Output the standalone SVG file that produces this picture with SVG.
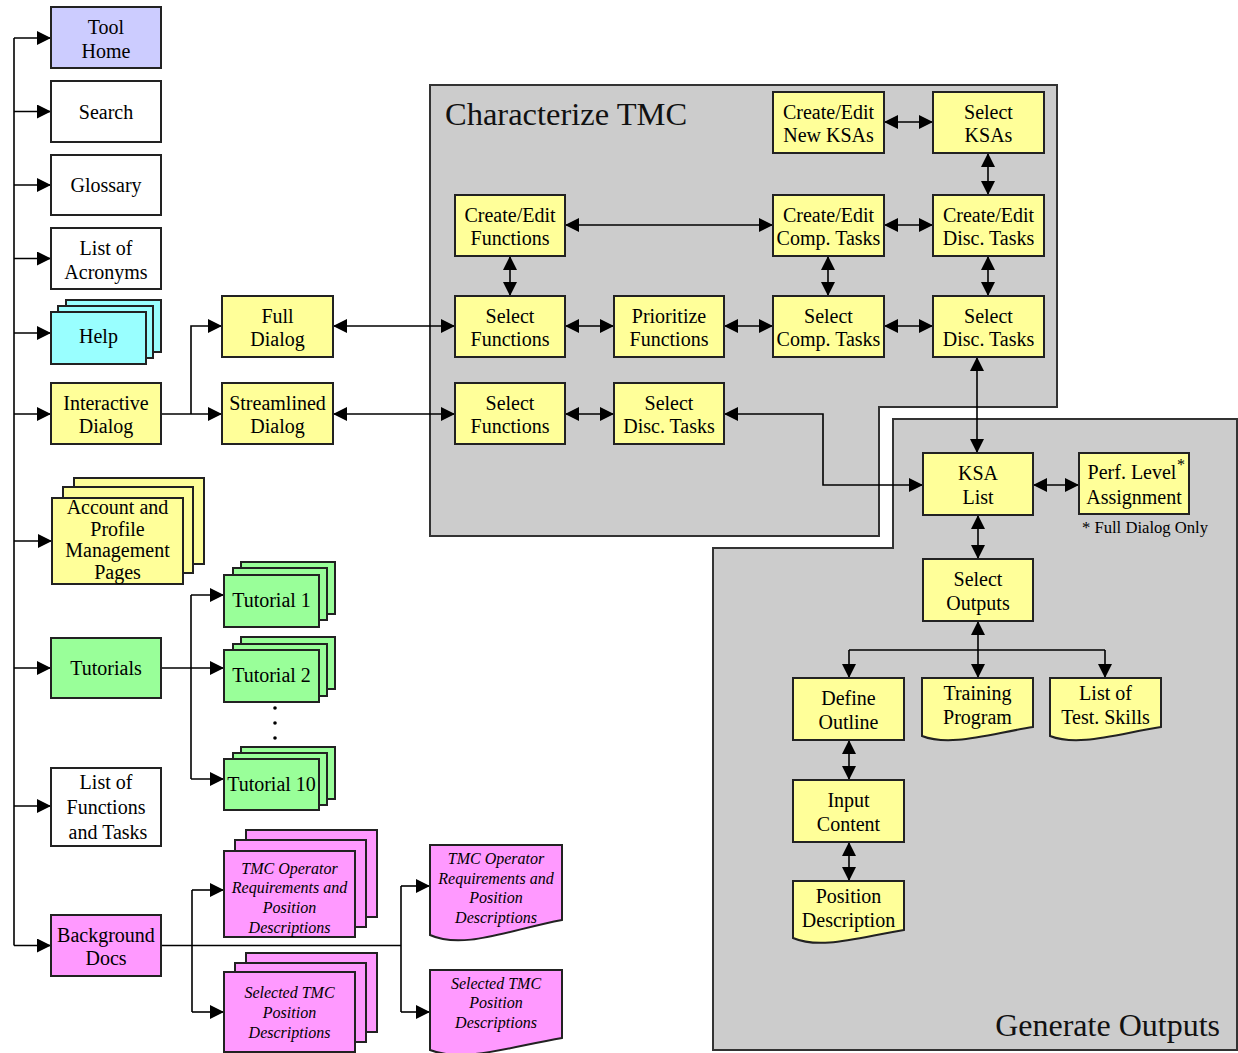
<svg xmlns="http://www.w3.org/2000/svg" width="1238" height="1053" viewBox="0 0 1238 1053">
<defs>
<style>
.box{stroke:#222;stroke-width:2}
.y{fill:#FFFF99}.w{fill:#FFFFFF}.c{fill:#99FFFF}.g{fill:#99FF99}.p{fill:#FF99FF}.l{fill:#CCCCFF}
.region{fill:#CCCCCC;stroke:#333;stroke-width:2}
.t{font-family:"Liberation Serif","Times New Roman",serif;font-size:20px;text-anchor:middle;fill:#000}
.it{font-family:"Liberation Serif","Times New Roman",serif;font-size:16px;font-style:italic;text-anchor:middle;fill:#000}
.title{font-family:"Liberation Serif","Times New Roman",serif;font-size:32.5px;fill:#111}
.note{font-family:"Liberation Serif","Times New Roman",serif;font-size:16px;fill:#000}
.conn{stroke:#000;stroke-width:1.6;fill:none}
.one{marker-end:url(#ah)}
.two{marker-start:url(#ah);marker-end:url(#ah)}
.back{marker-start:url(#ah)}
</style>
<marker id="ah" markerUnits="userSpaceOnUse" markerWidth="15" markerHeight="14" refX="14" refY="7" orient="auto-start-reverse">
<path d="M0,0 L14,7 L0,14 z" fill="#000"/>
</marker>
</defs>
<rect width="1238" height="1053" fill="#fff"/>

<!-- regions -->
<g id="characterize-tmc">
<polygon class="region" points="430,85 1057,85 1057,407 879,407 879,536 430,536"/>
<text class="title" x="445" y="125">Characterize TMC</text>
</g>
<g id="generate-outputs">
<polygon class="region" points="893,419 1237,419 1237,1050 713,1050 713,548 893,548"/>
<text class="title" x="1220" y="1036" style="font-size:32px;text-anchor:end">Generate Outputs</text>
</g>

<!-- connectors -->
<g id="connectors">
<path class="conn" d="M14,38 V945.5"/>
<path class="conn one" d="M14,38 H51"/>
<path class="conn one" d="M14,111.5 H51"/>
<path class="conn one" d="M14,185 H51"/>
<path class="conn one" d="M14,258.5 H51"/>
<path class="conn one" d="M14,333 H51"/>
<path class="conn one" d="M14,414 H51"/>
<path class="conn one" d="M14,541 H52"/>
<path class="conn one" d="M14,668 H51"/>
<path class="conn one" d="M14,806 H51"/>
<path class="conn one" d="M14,945.5 H51"/>

<path class="conn one" d="M161,414 H222"/>
<path class="conn one" d="M191,414 V326 H222"/>

<path class="conn one" d="M161,668 H224"/>
<path class="conn" d="M191,595 V779"/>
<path class="conn one" d="M191,595 H224"/>
<path class="conn one" d="M191,779 H224"/>

<path class="conn" d="M161,945.5 H401"/>
<path class="conn" d="M192,890 V1012"/>
<path class="conn one" d="M192,890 H224"/>
<path class="conn one" d="M192,1012 H224"/>
<path class="conn" d="M401,886 V1012"/>
<path class="conn one" d="M401,886 H430"/>
<path class="conn one" d="M401,1012 H430"/>

<path class="conn two" d="M333,326 H455"/>
<path class="conn two" d="M333,414 H455"/>
<path class="conn two" d="M565,326 H614"/>
<path class="conn two" d="M724,326 H773"/>
<path class="conn two" d="M884,326 H933"/>
<path class="conn two" d="M565,414 H614"/>
<path class="conn two" d="M724,414 H823 V485 H923"/>
<path class="conn two" d="M565,225 H773"/>
<path class="conn two" d="M884,225 H933"/>
<path class="conn two" d="M884,122 H933"/>
<path class="conn two" d="M988,153 V195"/>
<path class="conn two" d="M510,256 V296"/>
<path class="conn two" d="M828,256 V296"/>
<path class="conn two" d="M988,256 V296"/>
<path class="conn two" d="M977,357 V453"/>
<path class="conn two" d="M1033,485 H1079"/>
<path class="conn two" d="M978,515 V559"/>
<path class="conn back" d="M978,621 V650"/>
<path class="conn" d="M849,650 H1105"/>
<path class="conn one" d="M849,650 V678"/>
<path class="conn one" d="M978,650 V678"/>
<path class="conn one" d="M1105,650 V678"/>
<path class="conn two" d="M849,740 V780"/>
<path class="conn two" d="M849,842 V881"/>
</g>

<!-- left column -->
<g id="tool-home"><rect class="box l" x="51" y="7" width="110" height="61"/><text class="t" x="106" y="33.5">Tool</text><text class="t" x="106" y="57.5">Home</text></g>
<g id="search"><rect class="box w" x="51" y="81" width="110" height="61"/><text class="t" x="106" y="118.5">Search</text></g>
<g id="glossary"><rect class="box w" x="51" y="155" width="110" height="60"/><text class="t" x="106" y="192">Glossary</text></g>
<g id="list-of-acronyms"><rect class="box w" x="51" y="228" width="110" height="61"/><text class="t" x="106" y="254.5">List of</text><text class="t" x="106" y="278.5">Acronyms</text></g>
<g id="help">
<rect class="box c" x="66" y="300" width="95" height="52"/>
<rect class="box c" x="58" y="306" width="95" height="52"/>
<rect class="box c" x="51" y="312" width="95" height="52"/>
<text class="t" x="98.5" y="343">Help</text>
</g>
<g id="interactive-dialog"><rect class="box y" x="51" y="383" width="110" height="61"/><text class="t" x="106" y="409.5">Interactive</text><text class="t" x="106" y="433">Dialog</text></g>
<g id="account-profile">
<rect class="box y" x="74" y="478" width="130" height="86"/>
<rect class="box y" x="63" y="487" width="130" height="86"/>
<rect class="box y" x="52" y="498" width="131" height="86"/>
<text class="t" x="117.5" y="514">Account and</text>
<text class="t" x="117.5" y="535.5">Profile</text>
<text class="t" x="117.5" y="557">Management</text>
<text class="t" x="117.5" y="579">Pages</text>
</g>
<g id="tutorials"><rect class="box g" x="51" y="638" width="110" height="60"/><text class="t" x="106" y="675">Tutorials</text></g>
<g id="list-of-functions"><rect class="box w" x="51" y="768" width="110" height="78"/><text class="t" x="106" y="789">List of</text><text class="t" x="106" y="814">Functions</text><text class="t" x="108" y="839">and Tasks</text></g>
<g id="background-docs"><rect class="box p" x="51" y="915" width="110" height="61"/><text class="t" x="106" y="941.5">Background</text><text class="t" x="106" y="965">Docs</text></g>

<!-- dialogs -->
<g id="full-dialog"><rect class="box y" x="222" y="296" width="111" height="61"/><text class="t" x="277.5" y="322.5">Full</text><text class="t" x="277.5" y="346">Dialog</text></g>
<g id="streamlined-dialog"><rect class="box y" x="222" y="383" width="111" height="61"/><text class="t" x="277.5" y="409.5">Streamlined</text><text class="t" x="277.5" y="433">Dialog</text></g>

<!-- tutorials -->
<g id="tutorial-1">
<rect class="box g" x="241" y="562" width="94" height="52"/>
<rect class="box g" x="233" y="568" width="94" height="52"/>
<rect class="box g" x="224" y="575" width="95" height="52"/>
<text class="t" x="271.5" y="607">Tutorial 1</text>
</g>
<g id="tutorial-2">
<rect class="box g" x="241" y="637" width="94" height="52"/>
<rect class="box g" x="233" y="644" width="94" height="52"/>
<rect class="box g" x="224" y="650" width="95" height="52"/>
<text class="t" x="271.5" y="682">Tutorial 2</text>
</g>
<g id="ellipsis"><circle cx="275" cy="708" r="1.8"/><circle cx="275" cy="723" r="1.8"/><circle cx="275" cy="738" r="1.8"/></g>
<g id="tutorial-10">
<rect class="box g" x="241" y="747" width="94" height="52"/>
<rect class="box g" x="233" y="753" width="94" height="52"/>
<rect class="box g" x="224" y="759" width="95" height="51"/>
<text class="t" x="271.5" y="791">Tutorial 10</text>
</g>

<!-- background docs -->
<g id="tmc-operator-stack">
<rect class="box p" x="246" y="830" width="131" height="87"/>
<rect class="box p" x="235" y="840" width="131" height="87"/>
<rect class="box p" x="224" y="851" width="131" height="86"/>
<text class="it" x="289.5" y="874">TMC Operator</text>
<text class="it" x="289.5" y="893">Requirements and</text>
<text class="it" x="289.5" y="913">Position</text>
<text class="it" x="289.5" y="933">Descriptions</text>
</g>
<g id="selected-tmc-stack">
<rect class="box p" x="246" y="953" width="131" height="79"/>
<rect class="box p" x="235" y="963" width="131" height="79"/>
<rect class="box p" x="224" y="972" width="131" height="80"/>
<text class="it" x="289.5" y="998">Selected TMC</text>
<text class="it" x="289.5" y="1018">Position</text>
<text class="it" x="289.5" y="1038">Descriptions</text>
</g>
<g id="tmc-operator-doc">
<path class="box p" d="M430,845 H562 V920 C509,930 463,950 430,935 Z"/>
<text class="it" x="496" y="864">TMC Operator</text>
<text class="it" x="496" y="884">Requirements and</text>
<text class="it" x="496" y="903">Position</text>
<text class="it" x="496" y="923">Descriptions</text>
</g>
<g id="selected-tmc-doc">
<path class="box p" d="M430,970 H562 V1038 C509,1047 463,1063 430,1050 Z"/>
<text class="it" x="496" y="989">Selected TMC</text>
<text class="it" x="496" y="1008">Position</text>
<text class="it" x="496" y="1028">Descriptions</text>
</g>

<!-- characterize TMC nodes -->
<g id="create-edit-new-ksas"><rect class="box y" x="773" y="92" width="111" height="61"/><text class="t" x="828.5" y="118.5">Create/Edit</text><text class="t" x="828.5" y="142">New KSAs</text></g>
<g id="select-ksas"><rect class="box y" x="933" y="92" width="111" height="61"/><text class="t" x="988.5" y="118.5">Select</text><text class="t" x="988.5" y="142">KSAs</text></g>
<g id="create-edit-functions"><rect class="box y" x="455" y="195" width="110" height="61"/><text class="t" x="510" y="221.5">Create/Edit</text><text class="t" x="510" y="245">Functions</text></g>
<g id="create-edit-comp-tasks"><rect class="box y" x="773" y="195" width="111" height="61"/><text class="t" x="828.5" y="221.5">Create/Edit</text><text class="t" x="828.5" y="245">Comp. Tasks</text></g>
<g id="create-edit-disc-tasks"><rect class="box y" x="933" y="195" width="111" height="61"/><text class="t" x="988.5" y="221.5">Create/Edit</text><text class="t" x="988.5" y="245">Disc. Tasks</text></g>
<g id="select-functions-full"><rect class="box y" x="455" y="296" width="110" height="61"/><text class="t" x="510" y="322.5">Select</text><text class="t" x="510" y="346">Functions</text></g>
<g id="prioritize-functions"><rect class="box y" x="614" y="296" width="110" height="61"/><text class="t" x="669" y="322.5">Prioritize</text><text class="t" x="669" y="346">Functions</text></g>
<g id="select-comp-tasks"><rect class="box y" x="773" y="296" width="111" height="61"/><text class="t" x="828.5" y="322.5">Select</text><text class="t" x="828.5" y="346">Comp. Tasks</text></g>
<g id="select-disc-tasks-full"><rect class="box y" x="933" y="296" width="111" height="61"/><text class="t" x="988.5" y="322.5">Select</text><text class="t" x="988.5" y="346">Disc. Tasks</text></g>
<g id="select-functions-streamlined"><rect class="box y" x="455" y="383" width="110" height="61"/><text class="t" x="510" y="409.5">Select</text><text class="t" x="510" y="433">Functions</text></g>
<g id="select-disc-tasks-streamlined"><rect class="box y" x="614" y="383" width="110" height="61"/><text class="t" x="669" y="409.5">Select</text><text class="t" x="669" y="433">Disc. Tasks</text></g>

<!-- generate outputs nodes -->
<g id="ksa-list"><rect class="box y" x="923" y="453" width="110" height="62"/><text class="t" x="978" y="480">KSA</text><text class="t" x="978" y="504">List</text></g>
<g id="perf-level"><rect class="box y" x="1079" y="453" width="110" height="61"/><text class="t" x="1132" y="479">Perf. Level</text><text class="t" x="1134" y="503.5">Assignment</text><text class="note" x="1177" y="470">*</text></g>
<g id="full-dialog-note"><text class="note" x="1082" y="533" textLength="126" lengthAdjust="spacingAndGlyphs">* Full Dialog Only</text></g>
<g id="select-outputs"><rect class="box y" x="923" y="559" width="110" height="62"/><text class="t" x="978" y="586">Select</text><text class="t" x="978" y="610">Outputs</text></g>
<g id="define-outline"><rect class="box y" x="793" y="678" width="111" height="62"/><text class="t" x="848.5" y="705">Define</text><text class="t" x="848.5" y="728.5">Outline</text></g>
<g id="training-program"><path class="box y" d="M922,678 H1033 V727 C989,734 950,747 922,736 Z"/><text class="t" x="977.5" y="699.5">Training</text><text class="t" x="977.5" y="724">Program</text></g>
<g id="list-of-test-skills"><path class="box y" d="M1050,678 H1161 V727 C1117,734 1078,747 1050,736 Z"/><text class="t" x="1105.5" y="699.5">List of</text><text class="t" x="1105.5" y="724">Test. Skills</text></g>
<g id="input-content"><rect class="box y" x="793" y="780" width="111" height="62"/><text class="t" x="848.5" y="807">Input</text><text class="t" x="848.5" y="830.5">Content</text></g>
<g id="position-description"><path class="box y" d="M793,881 H904 V930 C860,937 821,950 793,938 Z"/><text class="t" x="848.5" y="902.5">Position</text><text class="t" x="848.5" y="926.5">Description</text></g>
</svg>
